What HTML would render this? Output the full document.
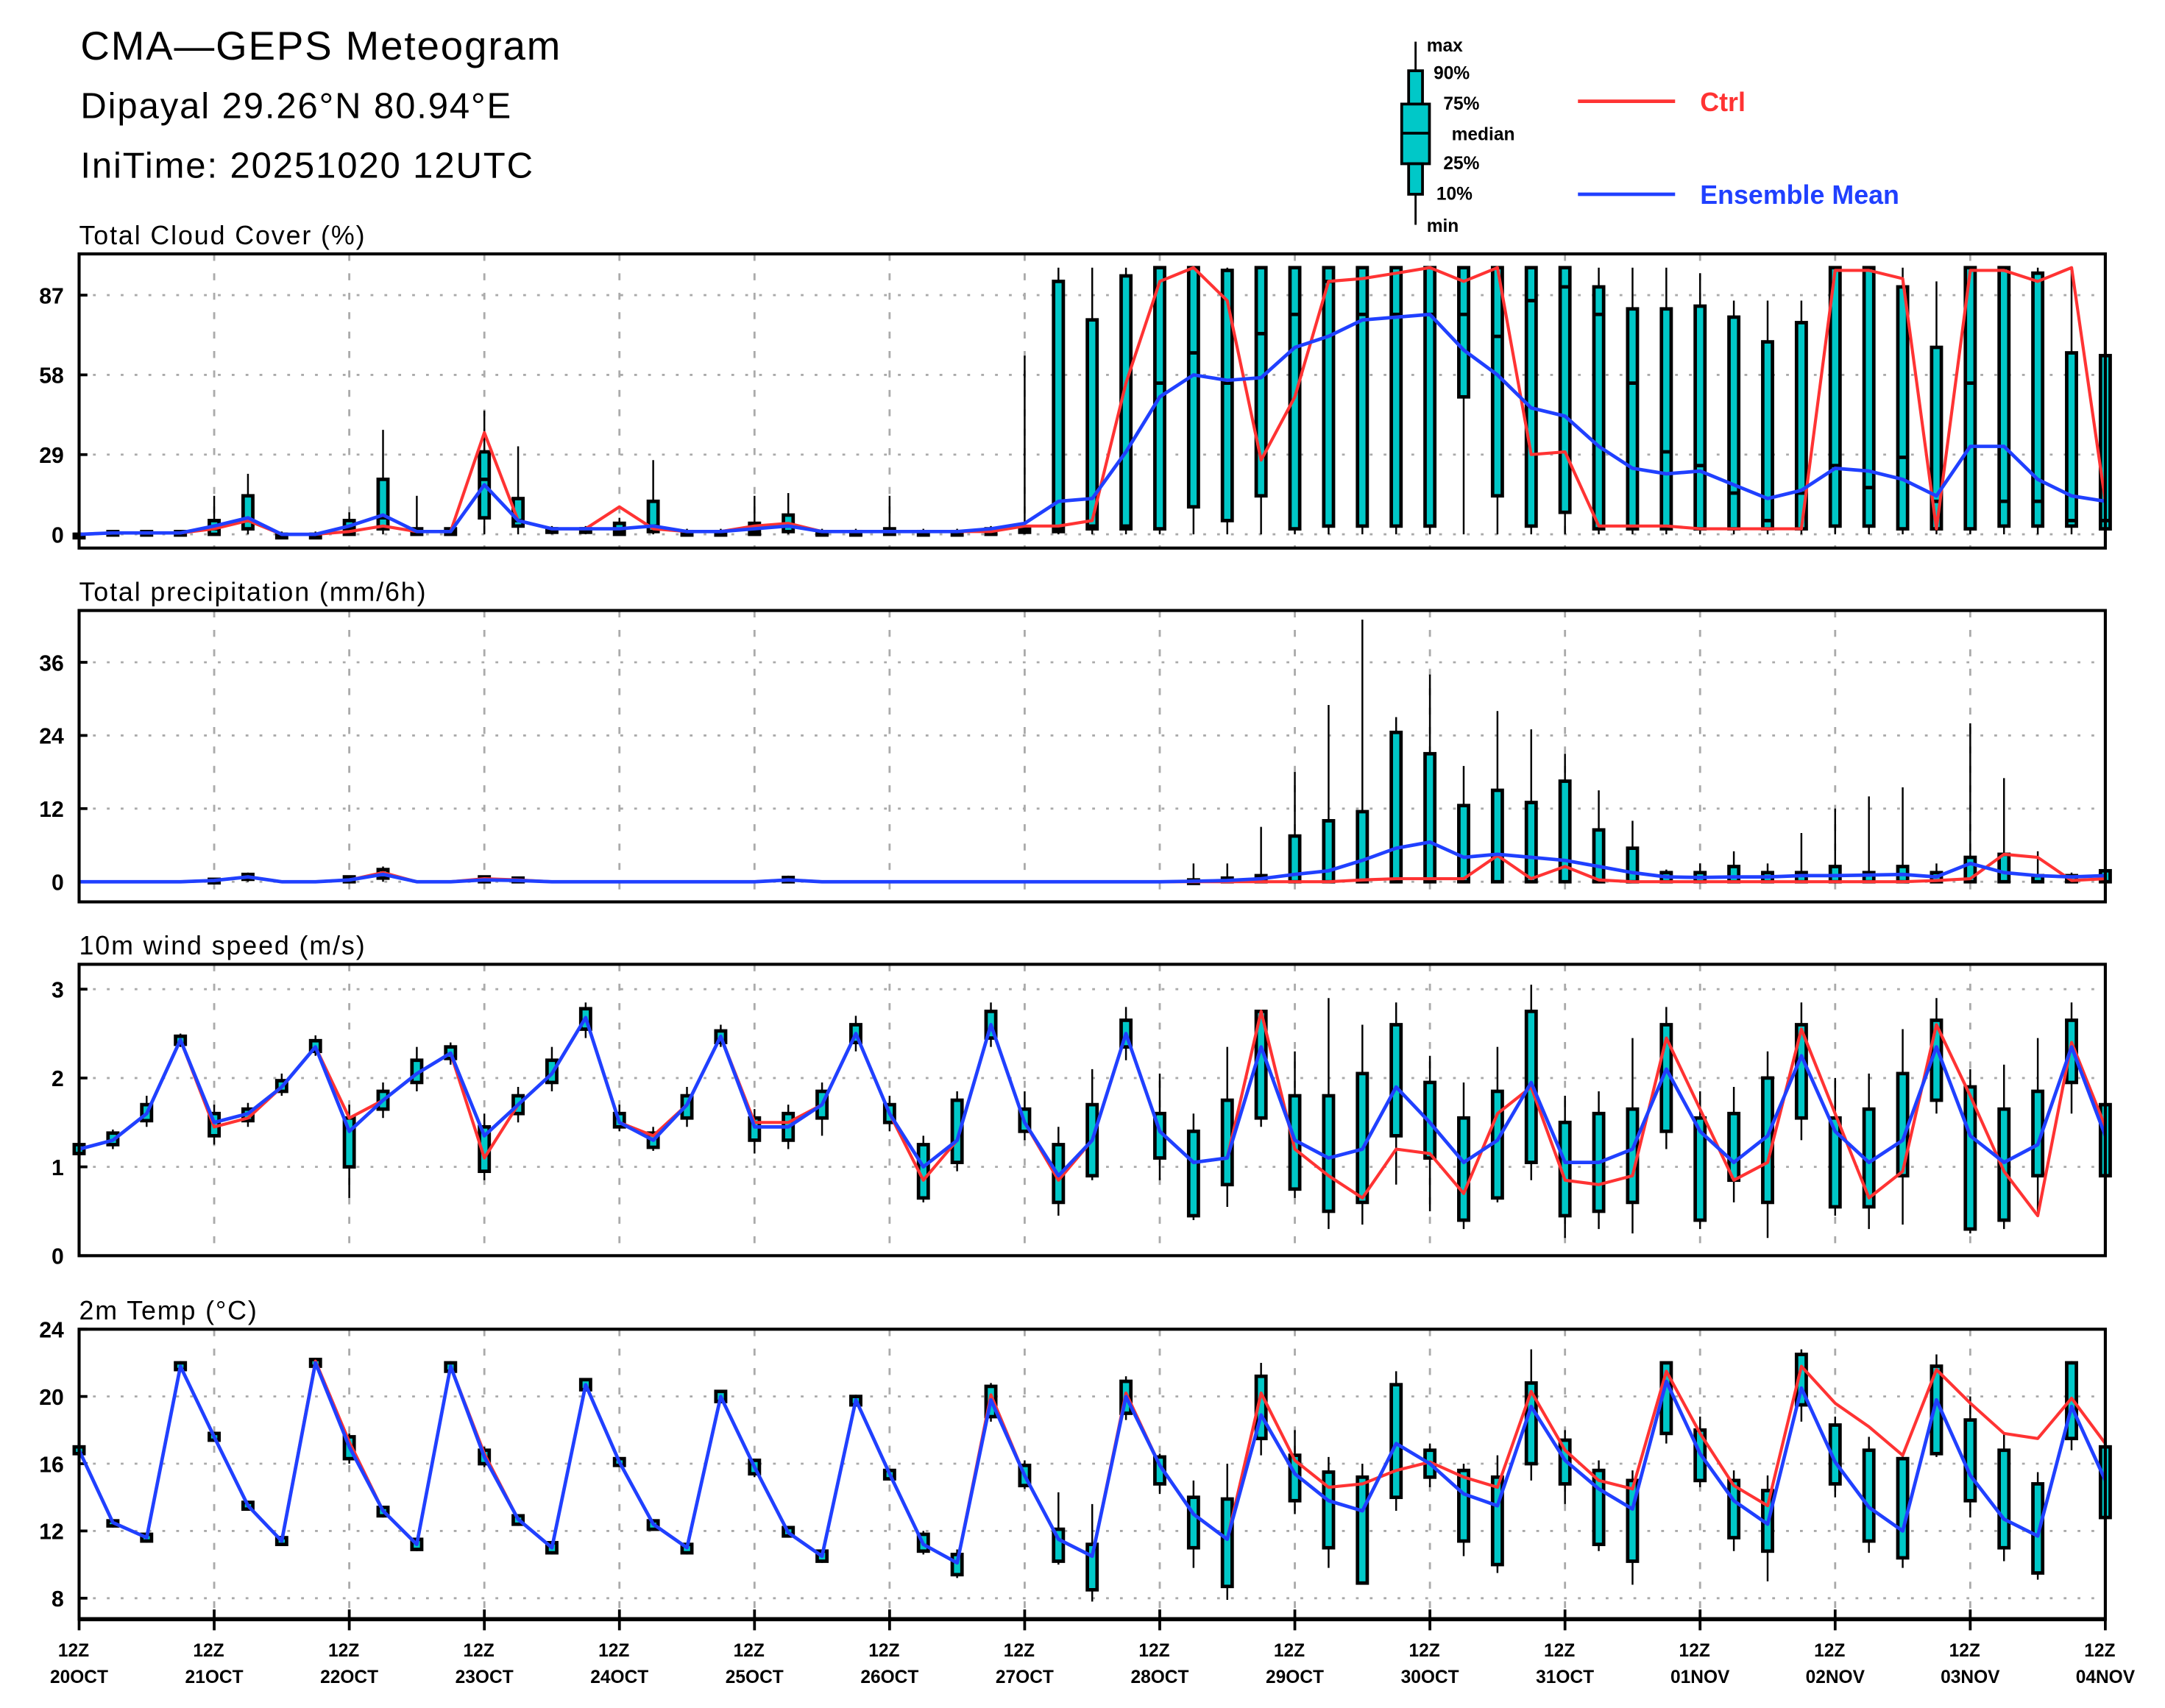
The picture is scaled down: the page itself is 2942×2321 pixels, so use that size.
<!DOCTYPE html>
<html><head><meta charset="utf-8"><style>
html,body{margin:0;padding:0;background:#fff}
svg{display:block}
text{font-family:"Liberation Sans","DejaVu Sans",sans-serif;font-weight:bold}
text.nb{font-weight:normal}
</style></head><body>
<svg id="chart" width="2942" height="2321" viewBox="0 0 1560 1231" preserveAspectRatio="none" xmlns="http://www.w3.org/2000/svg">
<g>
<text class="nb" x="58" y="43" font-size="29" letter-spacing="1">CMA—GEPS Meteogram</text>
<text class="nb" x="58" y="85" font-size="26" letter-spacing="1">Dipayal 29.26°N 80.94°E</text>
<text class="nb" x="58" y="128" font-size="26" letter-spacing="1">IniTime: 20251020 12UTC</text>
</g>
<g>
<line x1="1020" y1="30" x2="1020" y2="162" stroke="#000" stroke-width="1.5"/>
<rect x="1015" y="51" width="10" height="24" fill="#00c8c8" stroke="#000" stroke-width="2"/>
<rect x="1010" y="75" width="20" height="43" fill="#00c8c8" stroke="#000" stroke-width="2"/>
<line x1="1010" y1="96" x2="1030" y2="96" stroke="#000" stroke-width="2"/>
<rect x="1015" y="118" width="10" height="22" fill="#00c8c8" stroke="#000" stroke-width="2"/>
<g font-size="13">
<text x="1028" y="37">max</text><text x="1033" y="57">90%</text><text x="1040" y="79">75%</text>
<text x="1046" y="101">median</text><text x="1040" y="122">25%</text><text x="1035" y="144">10%</text><text x="1028" y="167">min</text>
</g>
<line x1="1137" y1="73" x2="1207" y2="73" stroke="#ff3333" stroke-width="2.5"/>
<text x="1225" y="80" font-size="19" fill="#ff3333">Ctrl</text>
<line x1="1137" y1="140" x2="1207" y2="140" stroke="#2040ff" stroke-width="2.5"/>
<text x="1225" y="147" font-size="19" fill="#2040ff">Ensemble Mean</text>
</g>
<g id="plots"></g>
</svg>
<script>
const dayLabels=["20OCT","21OCT","22OCT","23OCT","24OCT","25OCT","26OCT","27OCT","28OCT","29OCT","30OCT","31OCT","01NOV","02NOV","03NOV","04NOV"];

const cloudTicks=[0,29,58,87];
const cloudMean=[0,0.5,0.5,0.5,3,6,0,0,3,7,1,1,18,5,2,2,2,3,1,1,2,3,1,1,1,1,1,2,4,12,13,30,50,58,56,57,68,72,78,79,80,67,58,46,43,32,24,22,23,18,13,16,24,23,20,14,32,32,20,14,12];
const cloudCtrl=[0,0.5,0.5,0.5,2,5,0,0,1,3,1,1,37,5,2,2,10,2,1,1,3,4,1,1,1,1,1,1,3,3,5,55,92,97,85,27,50,92,93,95,97,92,97,29,30,3,3,3,2,2,2,2,96,96,93,2,96,96,92,97,12];
const cloudMin=[0,0,0,0,0,0,0,0,0,0,0,0,0,0,0,0,0,0,0,0,0,0,0,0,0,0,0,0,0,0,0,0,0,0,0,0,0,0,0,0,0,0,0,0,0,0,0,0,0,0,0,0,0,0,0,0,0,0,0,0,0];
const cloudLo=[0,0,0,0,0,2,0,0,0,2,0,0,6,3,1,1,0,1,0,0,0,1,0,0,0,0,0,0,1,1,2,2,2,10,5,14,2,3,3,3,3,50,14,3,8,2,2,2,2,2,2,2,3,3,2,2,2,3,3,3,2];
const cloudMed=[0,0.5,0.5,0.5,2,5,0,0,2,6,1,1,20,5,2,2,1,3,1,1,1,3,1,1,1,1,1,1,2,2,3,3,55,66,55,73,80,92,80,80,80,80,72,85,90,80,55,30,25,15,5,15,25,17,28,12,55,12,12,5,5];
const cloudHi=[0,1,1,1,5,14,0,0,5,20,2,2,30,13,2,2,4,12,1,1,4,7,1,1,2,1,1,2,2,92,78,94,97,97,96,97,97,97,97,97,97,97,97,97,97,90,82,82,83,79,70,77,97,97,90,68,97,97,95,66,65];
const cloudMax=[1,1,1,1,14,22,1,1,8,38,14,2,45,32,3,3,6,27,2,2,14,15,2,2,14,2,2,3,65,97,97,97,97,97,97,97,97,97,97,97,97,97,97,97,97,97,97,97,95,85,85,85,97,97,97,92,97,97,97,97,97];

const precTicks=[0,12,24,36];
const precMean=[0,0,0,0,0.2,0.8,0,0,0.3,1.2,0,0,0.3,0.2,0,0,0,0,0,0,0,0.3,0,0,0,0,0,0,0,0,0,0,0,0.1,0.2,0.5,1.2,1.8,3.5,5.5,6.5,4,4.5,4,3.5,2.5,1.5,0.8,0.7,0.8,0.8,1,1,1.1,1.2,0.8,3,1.5,1,0.8,1];
const precCtrl=[0,0,0,0,0.2,0.8,0,0,0.3,1.5,0,0,0.5,0.3,0,0,0,0,0,0,0,0.3,0,0,0,0,0,0,0,0,0,0,0,0,0,0,0,0,0.3,0.5,0.5,0.5,4.3,0.5,2.5,0.3,0,0,0,0,0,0,0,0,0,0.2,0.5,4.5,4,0.2,0.5];
const precMin=[0,0,0,0,0,0,0,0,0,0,0,0,0,0,0,0,0,0,0,0,0,0,0,0,0,0,0,0,0,0,0,0,0,0,0,0,0,0,0,0,0,0,0,0,0,0,0,0,0,0,0,0,0,0,0,0,0,0,0,0,0];
const precLo=[0,0,0,0,0,0.4,0,0,0,0.6,0,0,0,0,0,0,0,0,0,0,0,0,0,0,0,0,0,0,0,0,0,0,0,0,0,0,0,0,0,0,0,0,0,0,0,0,0,0,0,0,0,0,0,0,0,0,0,0,0,0,0];
const precHi=[0,0,0,0,0.4,1.2,0,0,0.8,2,0,0,0.8,0.6,0,0,0,0,0,0,0,0.7,0,0,0,0,0,0,0,0,0,0,0,0.3,0.6,1,7.5,10,11.5,24.5,21,12.5,15,13,16.5,8.5,5.5,1.5,1.5,2.5,1.5,1.5,2.5,1.5,2.5,1.5,4,4.5,1,1,1.8];
const precMax=[0,0,0,0,0.5,1.5,0,0,1,2.5,0,0,1,0.8,0,0,0,0,0,0,0,1,0,0,0,0,0,0,0,0,0,0,0,3,3,9,18,29,43,27,34,19,28,25,21,15,10,2,3,5,3,8,12,14,15.5,3,26,17,5,1.5,2];

const windTicks=[0,1,2,3];
const windMean=[1.2,1.3,1.6,2.43,1.5,1.6,1.9,2.35,1.4,1.75,2.05,2.28,1.35,1.7,2.05,2.68,1.5,1.3,1.7,2.47,1.45,1.45,1.7,2.5,1.6,1.0,1.3,2.6,1.5,0.9,1.3,2.5,1.4,1.05,1.1,2.35,1.3,1.1,1.2,1.9,1.5,1.05,1.3,1.95,1.05,1.05,1.2,2.1,1.4,1.05,1.35,2.25,1.4,1.05,1.3,2.35,1.35,1.05,1.25,2.35,1.35];
const windCtrl=[1.2,1.3,1.6,2.43,1.45,1.55,1.9,2.35,1.55,1.75,2.05,2.28,1.1,1.7,2.05,2.68,1.5,1.35,1.7,2.47,1.5,1.5,1.7,2.5,1.6,0.85,1.3,2.6,1.5,0.85,1.3,2.5,1.4,1.05,1.1,2.75,1.2,0.9,0.65,1.2,1.15,0.7,1.6,1.9,0.85,0.8,0.9,2.45,1.65,0.85,1.05,2.55,1.6,0.65,0.95,2.6,1.8,0.95,0.45,2.4,1.45];
const windLo=[1.15,1.25,1.52,2.38,1.35,1.52,1.85,2.3,1.0,1.65,1.95,2.22,0.95,1.6,1.95,2.55,1.45,1.22,1.55,2.4,1.3,1.3,1.55,2.4,1.5,0.65,1.05,2.45,1.4,0.6,0.9,2.35,1.1,0.45,0.8,1.55,0.75,0.5,0.6,1.35,1.1,0.4,0.65,1.05,0.45,0.5,0.6,1.4,0.4,0.85,0.6,1.55,0.55,0.55,0.9,1.75,0.3,0.4,0.9,1.95,0.9];
const windHi=[1.25,1.38,1.7,2.47,1.6,1.65,1.97,2.42,1.55,1.85,2.2,2.35,1.45,1.8,2.2,2.78,1.6,1.38,1.8,2.53,1.55,1.6,1.85,2.6,1.7,1.25,1.75,2.75,1.65,1.25,1.7,2.65,1.6,1.4,1.75,2.75,1.8,1.8,2.05,2.6,1.95,1.55,1.85,2.75,1.5,1.6,1.65,2.6,1.55,1.6,2.0,2.6,1.55,1.65,2.05,2.65,1.9,1.65,1.85,2.65,1.7];
const windMin=[1.1,1.2,1.45,2.35,1.25,1.45,1.8,2.25,0.65,1.55,1.85,2.15,0.85,1.5,1.85,2.45,1.4,1.18,1.45,2.35,1.15,1.2,1.35,2.3,1.4,0.6,0.95,2.35,1.3,0.45,0.85,2.2,0.85,0.4,0.55,1.45,0.65,0.3,0.35,0.8,0.5,0.3,0.6,0.85,0.2,0.3,0.25,1.2,0.3,0.6,0.2,1.3,0.45,0.3,0.35,1.6,0.25,0.3,0.5,1.6,0.85];
const windMax=[1.3,1.42,1.8,2.5,1.7,1.72,2.05,2.48,1.7,1.95,2.35,2.4,1.6,1.9,2.35,2.85,1.7,1.45,1.9,2.6,1.65,1.7,1.95,2.7,1.8,1.35,1.85,2.85,1.85,1.45,2.1,2.8,2.05,1.6,2.35,2.75,2.3,2.9,2.6,2.85,2.25,1.95,2.35,3.05,1.8,1.85,2.45,2.8,1.85,1.9,2.3,2.85,2.0,2.05,2.55,2.9,2.1,2.15,2.45,2.85,1.75];

const tempTicks=[8,12,16,20,24];
const tempMean=[16.8,12.5,11.6,21.8,17.6,13.5,11.4,22,17,13.2,11.2,21.8,16.4,12.7,11,20.7,16.1,12.4,11,20,15.8,11.9,10.5,19.8,15.4,11.2,10.1,19.8,15.3,11.5,10.5,20,15.9,13,11.5,18.9,15.4,13.8,13.2,17.2,16,14.2,13.5,19.4,16.2,14.5,13.3,20.9,16.6,13.8,12.4,20.5,16.1,13.4,12,19.8,15.3,12.7,11.7,19.4,15];
const tempCtrl=[16.8,12.5,11.6,21.8,17.6,13.5,11.4,22.1,17.3,13.2,11.2,21.8,16.6,12.7,11,20.7,16.1,12.4,11,20,15.8,11.9,10.5,19.8,15.4,11.2,10.1,20.1,15.3,11.5,10.5,20.2,15.9,13,11.5,20.2,16.2,14.6,14.8,15.6,16.1,15.2,14.6,20.3,16.8,15,14.5,21.5,17.8,14.7,13.5,21.8,19.6,18.2,16.5,21.6,19.6,17.8,17.5,19.9,17.2];
const tempLo=[16.6,12.3,11.4,21.6,17.4,13.3,11.2,21.8,16.3,12.9,10.9,21.5,16,12.4,10.7,20.4,15.9,12.1,10.7,19.7,15.4,11.7,10.2,19.5,15.1,10.8,9.4,18.8,14.7,10.2,8.5,19,14.8,11,8.7,17.5,13.8,11,8.9,14,15.2,11.4,10,16,14.8,11.2,10.2,17.8,15,11.6,10.8,19.5,14.8,11.4,10.4,16.6,13.8,11,9.5,17.5,12.8];
const tempHi=[17,12.6,11.8,22,17.8,13.7,11.6,22.2,17.6,13.4,11.5,22,16.8,12.9,11.3,21,16.3,12.6,11.2,20.3,16.2,12.2,10.8,20,15.6,11.8,10.6,20.6,15.9,12.1,11.2,20.9,16.4,14,13.9,21.2,16.5,15.5,15.2,20.7,16.8,15.6,15.2,20.8,17.4,15.6,15,22,18,15,14.4,22.5,18.3,16.8,16.3,21.8,18.6,16.8,14.8,22,17];
const tempMin=[16.5,12.2,11.3,21.5,17.3,13.2,11.1,21.7,16,12.8,10.8,21.4,15.8,12.3,10.6,20.3,15.8,12,10.6,19.6,15.2,11.6,10.1,19.4,15,10.6,9.2,18.5,14.5,10,7.8,18.6,14.2,9.8,7.9,16.5,13,9.8,8.8,13.2,14.6,10.5,9.5,15,13.6,10.8,8.8,17.2,14.6,10.8,9,18.5,14,10.7,9.8,16.4,12.8,10.2,9.1,16.8,12.5];
const tempMax=[17.1,12.7,11.9,22.1,17.9,13.8,11.7,22.3,17.8,13.5,11.6,22.1,17,13,11.4,21.1,16.4,12.7,11.3,20.4,16.3,12.3,10.9,20.1,15.7,12,10.9,20.8,16.2,14.3,13.6,21.2,16.6,15,16,22,18,16.4,16,21.5,17.2,16,16.5,22.8,18,16.2,15.6,22,18.8,15.6,15.3,22.8,18.8,17.6,16.5,22.5,20,17.8,15.5,22.1,17.4];

const X0=57,X1=1517,N=61;
const xs=i=>X0+(X1-X0)*i/(N-1);
const panels=[
 {name:"cloud-cover",title:"Total Cloud Cover (%)",top:183,bot:395,vmin:-5,vmax:102,ticks:cloudTicks,mean:cloudMean,ctrl:cloudCtrl,mn:cloudMin,lo:cloudLo,md:cloudMed,hi:cloudHi,mx:cloudMax},
 {name:"precipitation",title:"Total precipitation (mm/6h)",top:440,bot:650,vmin:-3.3,vmax:44.5,ticks:precTicks,mean:precMean,ctrl:precCtrl,mn:precMin,lo:precLo,md:null,hi:precHi,mx:precMax},
 {name:"wind-speed",title:"10m wind speed (m/s)",top:695,bot:905,vmin:0,vmax:3.28,ticks:windTicks,mean:windMean,ctrl:windCtrl,mn:windMin,lo:windLo,md:null,hi:windHi,mx:windMax},
 {name:"temperature",title:"2m Temp (°C)",top:958,bot:1167,vmin:6.75,vmax:24,ticks:tempTicks,mean:tempMean,ctrl:tempCtrl,mn:tempMin,lo:tempLo,md:null,hi:tempHi,mx:tempMax}
];
const NS="http://www.w3.org/2000/svg";
const root=document.getElementById('plots');
function mk(tag,attrs,parent){const e=document.createElementNS(NS,tag);for(const k in attrs)e.setAttribute(k,attrs[k]);parent.appendChild(e);return e;}

panels.forEach(p=>{
 const g=mk('g',{},root);
 
 
 const ys=v=>p.bot-(v-p.vmin)/(p.vmax-p.vmin)*(p.bot-p.top);
 const t=mk('text',{x:57,y:p.top-7,'font-size':19,'letter-spacing':'1','class':'nb'},g);
 t.textContent=p.title;
 
 
 for(let d=1;d<15;d++){const x=xs(d*4);
  const l=mk('line',{x1:x,y1:p.top,x2:x,y2:p.bot,stroke:'#aaa','stroke-width':1.5,'stroke-dasharray':'5,9'},g);
  
  }
 p.ticks.forEach(v=>{const y=ys(v);
  if(y>p.top+2 && y<p.bot-2){const l=mk('line',{x1:X0,y1:y,x2:X1,y2:y,stroke:'#aaa','stroke-width':1.5,'stroke-dasharray':'2,8'},g);
   
   }
  mk('line',{x1:X0,y1:y,x2:X0+6,y2:y,stroke:'#000','stroke-width':2},g);
  const tl=mk('text',{x:46,y:y+6,'font-size':16,'text-anchor':'end'},g);
  tl.textContent=v;
  
  
 });
 for(let i=0;i<N;i++){const x=xs(i);
  if(p.mx[i]<=0) continue;
  const w=mk('line',{x1:x,y1:ys(p.mn[i]),x2:x,y2:ys(p.mx[i]),stroke:'#000','stroke-width':1.3},g);
  
  
  const y1=ys(p.hi[i]),y2=ys(p.lo[i]);
  const b=mk('rect',{x:x-3.5,y:y1,width:7,height:Math.max(y2-y1,2.5),fill:'#00c8c8',stroke:'#000','stroke-width':2.5},g);
  
  
  if(p.md){const m=mk('line',{x1:x-4,y1:ys(p.md[i]),x2:x+4,y2:ys(p.md[i]),stroke:'#000','stroke-width':2.5},g);
   
   }
 }
 const path=arr=>arr.map((v,i)=>(i?'L':'M')+xs(i).toFixed(1)+','+ys(v).toFixed(1)).join('');
 const c=mk('path',{d:path(p.ctrl),fill:'none',stroke:'#ff3333','stroke-width':2.2,'stroke-linejoin':'round'},g);
 
 
 const m=mk('path',{d:path(p.mean),fill:'none',stroke:'#2040ff','stroke-width':2.5,'stroke-linejoin':'round'},g);
 
 
 const fr=mk('rect',{x:X0,y:p.top,width:X1-X0,height:p.bot-p.top,fill:'none',stroke:'#000','stroke-width':2.2},g);
 
 
});
const xg=mk('g',{},root);


mk('line',{x1:X0,y1:1167,x2:X1,y2:1167,stroke:'#000','stroke-width':3},xg);
dayLabels.forEach((d,k)=>{const x=xs(k*4);
 mk('line',{x1:x,y1:1160,x2:x,y2:1175,stroke:'#000','stroke-width':2},xg);
 const a=mk('text',{x:x-4,y:1194,'font-size':13,'text-anchor':'middle'},xg);
 a.textContent='12Z';
 
 
 const b=mk('text',{x:x,y:1213,'font-size':13,'text-anchor':'middle'},xg);
 b.textContent=d;
 
 
});
</script>
</body></html>
